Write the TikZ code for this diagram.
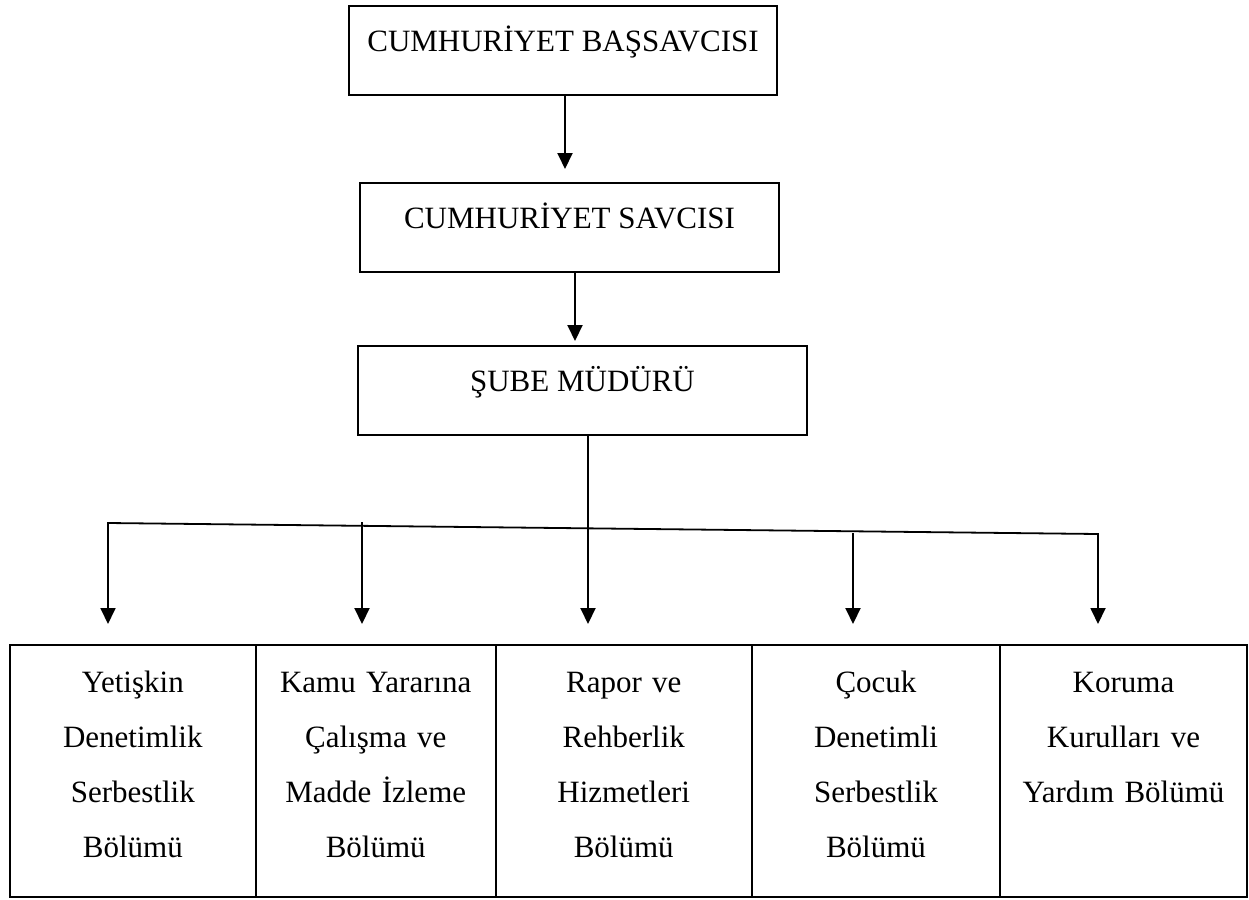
\documentclass[tikz,border=0pt]{standalone}
\usepackage{fontspec}
\setmainfont{Liberation Serif}
\usetikzlibrary{arrows.meta}
\begin{document}
\begin{tikzpicture}[x=1pt,y=-1pt,
  box/.style={draw, line width=2.2pt, inner sep=0pt, outer sep=0pt, anchor=north,
    text height=45.5pt, text depth=43.5pt, font=\fontsize{31}{37}\selectfont},
  col/.style={draw, line width=2pt, inner sep=0pt, outer sep=0pt,
    minimum height=252pt, anchor=north west},
  coltext/.style={inner sep=0pt, anchor=north, align=center,
    font=\fontsize{31}{55}\selectfont},
  arr/.style={line width=2pt, -{Triangle[width=15pt,length=16pt]}},
  darr/.style={line width=1.8pt, {Triangle[width=15pt,length=16pt]}-{Triangle[width=15pt,length=16pt]}}
]
\useasboundingbox (0,0) rectangle (1249,899);

% top boxes
\node[box, minimum width=428pt] (bas) at (563,6) {CUMHURİYET BAŞSAVCISI};
\node[box, minimum width=419pt] (sav) at (569.5,183) {CUMHURİYET SAVCISI};
\node[box, minimum width=449pt] (sube) at (582.5,346) {ŞUBE MÜDÜRÜ};

% table columns
\node[col, minimum width=246.4pt] (c1) at (9.6,645) {};
\node[col, minimum width=239.5pt] (c2) at (256,645) {};
\node[col, minimum width=256.5pt] (c3) at (495.5,645) {};
\node[col, minimum width=248pt] (c4) at (752,645) {};
\node[col, minimum width=247pt] (c5) at (1000,645) {};

\node[coltext, text width=236pt] (t1) at ([yshift=-8.5pt]c1.north) {\strut Yetişkin\\Denetimlik\\Serbestlik\\Bölümü};
\node[coltext, text width=236pt] (t2) at ([yshift=-8.5pt]c2.north) {\strut Kamu Yararına\\Çalışma ve\\Madde İzleme\\Bölümü};
\node[coltext, text width=236pt] (t3) at ([yshift=-8.5pt]c3.north) {\strut Rapor ve\\Rehberlik\\Hizmetleri\\Bölümü};
\node[coltext, text width=236pt] (t4) at ([yshift=-8.5pt]c4.north) {\strut Çocuk\\Denetimli\\Serbestlik\\Bölümü};
\node[coltext, text width=236pt] (t5) at ([yshift=-8.5pt]c5.north) {\strut Koruma\\Kurulları ve\\Yardım Bölümü};

% vertical connectors between top boxes
\coordinate (x1) at (565,0);
\coordinate (x2) at (575,0);
\coordinate (x3) at (588,0);
\draw[arr, shorten >=14pt] (bas.south -| x1) -- (sav.north -| x1);
\draw[arr, shorten >=5pt] (sav.south -| x2) -- (sube.north -| x2);
\draw[arr, shorten >=21pt] (sube.south -| x3) -- (c3.north -| x3);

% slanted distribution line with end arrows
\coordinate (hL) at (108,523);
\coordinate (hR) at (1098,534);
\draw[darr, shorten <=21pt, shorten >=21pt, line join=miter]
  (c1.north -| hL) -- (hL) -- (hR) -- (c5.north -| hR);

\coordinate (b2) at (362,522);
\coordinate (b4) at (853,533);
\draw[arr, shorten >=21pt] (b2) -- (c2.north -| b2);
\draw[arr, shorten >=21pt] (b4) -- (c4.north -| b4);
\end{tikzpicture}
\end{document}
